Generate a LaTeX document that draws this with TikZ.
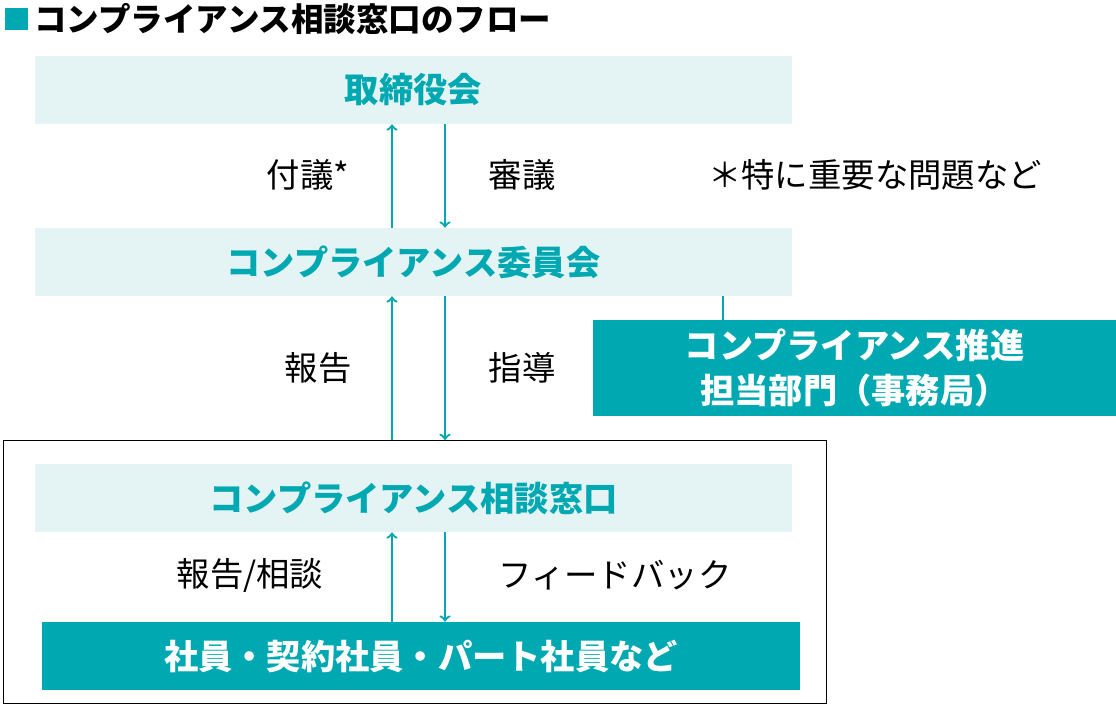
\documentclass[tikz,border=0pt]{standalone}
\usepackage{fontspec}
\setmainfont{Noto Sans CJK JP}
\definecolor{teal1}{HTML}{00A9B1}
\definecolor{pale}{HTML}{E4F3F4}
\tikzstyle{lightbox}=[fill=pale,minimum width=15.14cm,minimum height=1.36cm,inner sep=0pt,font=\fontsize{19.5}{22}\selectfont\bfseries,text=teal1]
\tikzstyle{darkbox}=[fill=teal1,inner sep=0pt,font=\fontsize{19.5}{26}\selectfont\bfseries,text=white,align=center]
\tikzstyle{lbl}=[font=\fontsize{19}{22}\selectfont]
\tikzstyle{flow}=[->,teal1,line width=1.3pt]
\begin{document}
\begin{tikzpicture}[x=0.02cm,y=-0.02cm]
\useasboundingbox (0,0) rectangle (1116,717);
% title
\fill[teal1] (5,8) rectangle (28,30);
\node[anchor=west,inner sep=0pt,font=\fontsize{18.5}{22}\selectfont\bfseries] (title) at (34,19) {コンプライアンス相談窓口のフロー};
% boxes
\node[lightbox] (board) at (413.5,90) {取締役会};
\node[lightbox] (comm) at (413.5,262) {コンプライアンス委員会};
\node[darkbox,minimum width=10.46cm,minimum height=1.92cm] (office) at (854.5,368) {コンプライアンス推進\\担当部門（事務局）};
\draw[black] (3,440) rectangle (826,703);
\node[lightbox] (desk) at (413.5,498) {コンプライアンス相談窓口};
\node[darkbox,minimum width=15.16cm,minimum height=1.36cm] (staff) at (421,656) {社員・契約社員・パート社員など};
% connectors
\coordinate (link) at (723,0);
\draw[teal1,line width=1.3pt] (comm.south -| link) -- (office.north -| link);
\draw[flow] (comm.north -| 392,0) -- (board.south -| 392,0);
\draw[flow] (board.south -| 445,0) -- (comm.north -| 445,0);
\coordinate (top3) at (0,440);
\draw[flow] (top3 -| 392,0) -- (comm.south -| 392,0);
\draw[flow] (comm.south -| 445,0) -- (top3 -| 445,0);
\draw[flow] (staff.north -| 392,0) -- (desk.south -| 392,0);
\draw[flow] (desk.south -| 445,0) -- (staff.north -| 445,0);
% labels
\node[lbl] (l1) at (308,175) {付議*};
\node[lbl] (l2) at (522,175) {審議};
\node[lbl] (note) at (875,175) {＊特に重要な問題など};
\node[lbl] (l3) at (318,368) {報告};
\node[lbl] (l4) at (522,368) {指導};
\node[lbl] (l5) at (250,575) {報告/相談};
\node[lbl] (l6) at (615,575) {フィードバック};
\end{tikzpicture}
\end{document}
